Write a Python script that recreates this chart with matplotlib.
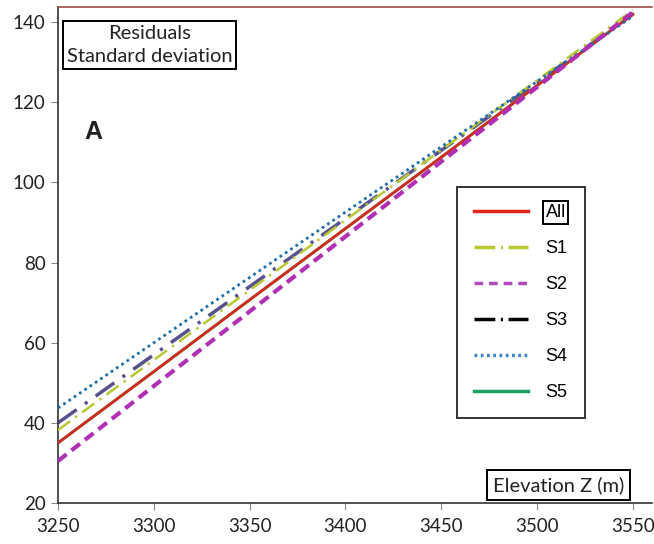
import matplotlib
matplotlib.use("Agg")
import matplotlib.pyplot as plt
from matplotlib.lines import Line2D

# ---- data ----
elevation = [3250, 3300, 3350, 3400, 3450, 3500, 3550]
s_all = [35.0, 52.8, 70.7, 88.5, 106.3, 124.2, 142.0]
s1 = [38.2, 55.7, 73.1, 90.6, 108.1, 125.5, 143.0]
s2 = [30.5, 49.2, 67.8, 86.5, 105.2, 123.8, 142.5]
s3 = [40.0, 57.0, 74.0, 91.0, 108.0, 125.0, 142.0]
s4 = [43.7, 60.0, 76.3, 92.6, 108.9, 125.2, 141.5]
s5 = [35.0, 52.8, 70.7, 88.5, 106.3, 124.2, 142.0]
series_labels = ["All", "S1", "S2", "S3", "S4", "S5"]
x_ticks = [3250, 3300, 3350, 3400, 3450, 3500, 3550]
y_ticks = [20, 40, 60, 80, 100, 120, 140]

W, H = 654, 544
fig = plt.figure(figsize=(W / 100, H / 100), dpi=100)
fig.patch.set_facecolor("white")
ax = fig.add_axes([58 / W, (H - 503) / H, (652 - 58) / W, (503 - 7) / H])

tick_font = "Lato"

# lines
ax.plot(elevation, s5, color="#1aa060", lw=2.0, zorder=1)
ax.plot(elevation, s_all, color="#d42a1e", lw=2.0, zorder=3)
ax.plot(elevation, s1, color="#b9c832", lw=1.8, dashes=(6, 2.5, 1, 2.5), zorder=3)
ax.plot(elevation, s3, color="#57528e", lw=2.5, dashes=(6.6, 2.9, 0.9, 2.9), zorder=2)
ax.plot(elevation, s4, color="#1f6fa8", lw=2.0, dashes=(1, 1.3), zorder=4)
ax.plot(elevation, s2, color="#b02fb5", lw=3.0, dashes=(2.6, 1.5), zorder=5)

ax.set_xlim(3250, 3560)
ax.set_ylim(20, 143.8)
ax.set_xticks(x_ticks)
ax.set_yticks(y_ticks)
for lab in ax.get_xticklabels() + ax.get_yticklabels():
    lab.set_fontfamily(tick_font)
    lab.set_fontsize(13.5)
    lab.set_color("#222222")
ax.tick_params(axis="both", direction="out", length=5, width=0.8, color="#888888")
ax.tick_params(axis="x", pad=6)
ax.tick_params(axis="y", pad=4)

ax.spines["right"].set_visible(False)
ax.spines["top"].set_color("#9a5040")
ax.spines["top"].set_linewidth(1.2)
ax.spines["left"].set_color("#333333")
ax.spines["bottom"].set_color("#333333")
ax.spines["left"].set_linewidth(1.2)
ax.spines["bottom"].set_linewidth(1.2)

# text boxes
fig.text(149.5 / W, 1 - 45 / H, "Residuals\nStandard deviation", ha="center", va="center",
         fontsize=14.5, family=tick_font, color="#222222", linespacing=1.4,
         bbox=dict(boxstyle="square,pad=0.2", fc="white", ec="black", lw=1.4))
fig.text(93 / W, 1 - 132 / H, "A", ha="center", va="center", fontsize=18,
         fontweight="bold", family="Liberation Sans", color="#222222")
fig.text(558.5 / W, 1 - 485 / H, "Elevation Z (m)", ha="center", va="center",
         fontsize=14.5, family=tick_font, color="#222222",
         bbox=dict(boxstyle="square,pad=0.3", fc="white", ec="black", lw=1.4))

# legend with proxy handles
handles = [
    Line2D([], [], color="#e3261c", lw=2.5),
    Line2D([], [], color="#b9c832", lw=2.5, dashes=(6, 1.6, 0.6, 1.6)),
    Line2D([], [], color="#b04ab8", lw=2.5, dashes=(2.5, 1.7)),
    Line2D([], [], color="black", lw=2.5, dashes=(6, 1.6, 0.6, 1.6)),
    Line2D([], [], color="#3f86c8", lw=2.5, dashes=(0.8, 1.0)),
    Line2D([], [], color="#1aa060", lw=2.5),
]
leg = ax.legend(handles, series_labels, loc="upper left",
                bbox_to_anchor=(457 / W, 1 - 187 / H), bbox_transform=fig.transFigure,
                prop=dict(family="Liberation Sans", size=13),
                frameon=True, fancybox=False, handlelength=3.0, handletextpad=0.95,
                labelspacing=1.05, borderpad=0.95, borderaxespad=0)
leg.get_frame().set_edgecolor("black")
leg.get_frame().set_linewidth(1.4)
leg.get_texts()[0].set_bbox(dict(boxstyle="square,pad=0.15", fc="white", ec="black", lw=1.4))
leg.set_zorder(10)

fig.savefig("out.png", dpi=100, facecolor="white")
